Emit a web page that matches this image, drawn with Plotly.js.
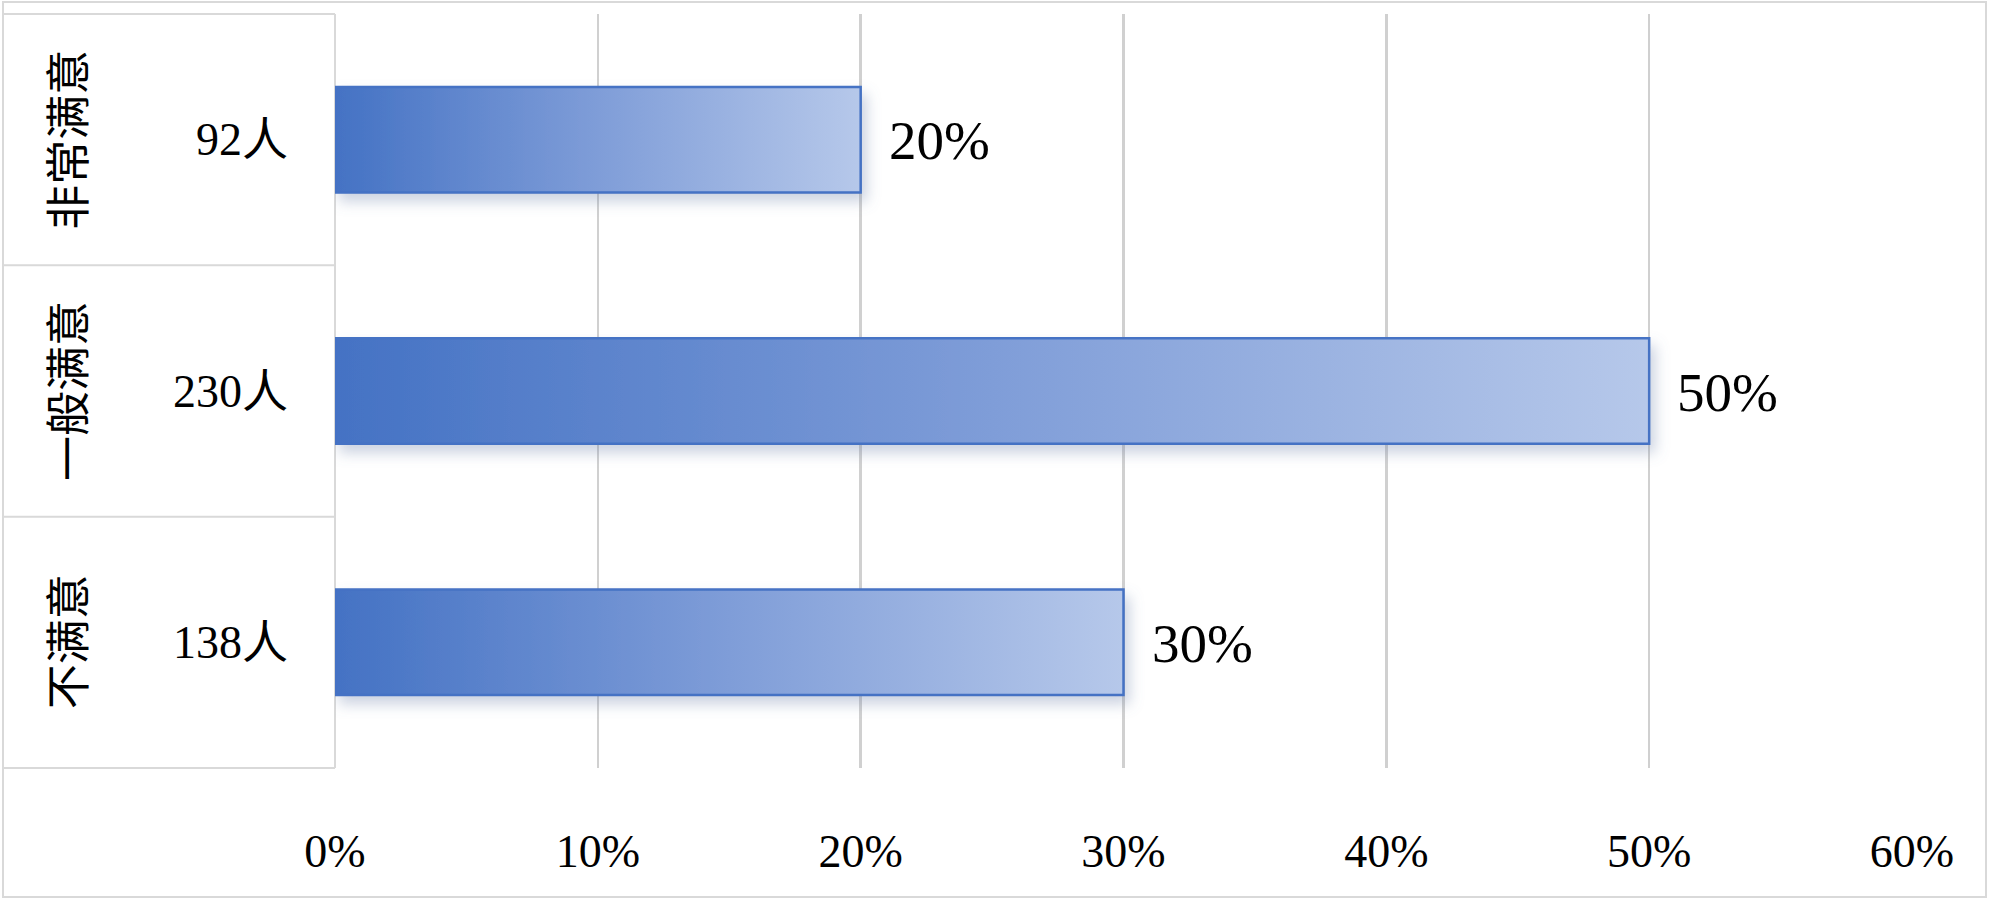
<!DOCTYPE html>
<html>
<head>
<meta charset="utf-8">
<script src="https://cdn.plot.ly/plotly-3.0.1.min.js"></script>
<style>
html,body{margin:0;padding:0;background:#fff;}
#chart{width:2000px;height:910px;}
</style>
</head>
<body>
<div id="chart"></div>
<script>
// ---- data ----
const categories = ['非常满意', '一般满意', '不满意'];
const counts = [92, 230, 138];
const shares = [0.20, 0.50, 0.30];
const countUnit = '人';

// ---- geometry helpers (pixel -> paper) ----
const W = 2000, H = 910;
const PL = 335, PR = 1912, PT = 14, PB = 768;
const pw = PR - PL, ph = PB - PT;
const px = v => (v - PL) / pw;
const py = v => (PB - v) / ph;

const FONT = '"Liberation Serif", "Times New Roman", "Noto Sans CJK SC", serif';
const FS = 46;
const LINE = '#d9d9d9';

const trace = {
  type: 'bar',
  orientation: 'h',
  y: categories,
  x: shares,
  width: 0.42,
  marker: { color: '#7f9fd8', line: { color: '#4472C4', width: 2.5 } },
  hoverinfo: 'none',
  cliponaxis: false
};

const annotations = [];
categories.forEach((c, i) => {
  // vertical category names
  annotations.push({
    xref: 'paper', yref: 'y', x: px(70), y: c,
    text: c, showarrow: false, textangle: -90,
    xanchor: 'center', yanchor: 'middle',
    font: { family: FONT, size: 45, color: '#000' }
  });
  // counts
  annotations.push({
    xref: 'paper', yref: 'y', x: px(290), y: c,
    text: counts[i] + countUnit, showarrow: false,
    xanchor: 'right', yanchor: 'middle',
    font: { family: FONT, size: FS, color: '#000' }
  });
  // share labels
  annotations.push({
    xref: 'x', yref: 'y', x: shares[i], y: c,
    text: Math.round(shares[i] * 100) + '%', showarrow: false,
    xanchor: 'left', yanchor: 'middle', xshift: 26, yshift: -1,
    font: { family: FONT, size: 55, color: '#000' }
  });
});

const shapes = [];
// outer border
shapes.push({ type: 'rect', xref: 'paper', yref: 'paper',
  x0: px(3), x1: px(1986), y0: py(897), y1: py(2),
  line: { color: LINE, width: 2 }, fillcolor: 'rgba(0,0,0,0)', layer: 'below' });
// category table: horizontal lines
[0, 1, 2, 3].forEach(k => {
  shapes.push({ type: 'line', xref: 'paper', yref: 'paper',
    x0: px(3), x1: 0, y0: k / 3, y1: k / 3,
    line: { color: LINE, width: 2 }, layer: 'below' });
});
// table right edge (0% line)
shapes.push({ type: 'line', xref: 'paper', yref: 'paper',
  x0: 0, x1: 0, y0: 0, y1: 1, line: { color: LINE, width: 2 }, layer: 'below' });

const layout = {
  width: W, height: H,
  margin: { l: PL, r: W - PR, t: PT, b: H - PB, pad: 0 },
  paper_bgcolor: '#fff', plot_bgcolor: '#fff',
  showlegend: false,
  bargap: 0.58,
  xaxis: {
    range: [0, 0.6], dtick: 0.1, tick0: 0, tickformat: '.0%',
    showgrid: true, gridcolor: '#d0d0d0', gridwidth: 2.5,
    zeroline: false, showline: false, ticks: '',
    ticklabelstandoff: 52,
    tickfont: { family: FONT, size: FS, color: '#000' },
    fixedrange: true
  },
  yaxis: {
    type: 'category', autorange: 'reversed',
    showticklabels: false, showgrid: false, zeroline: false, ticks: '',
    fixedrange: true
  },
  annotations: annotations,
  shapes: shapes
};

Plotly.newPlot('chart', [trace], layout, { staticPlot: true, displayModeBar: false }).then(gd => {
  const svg = gd.querySelector('svg.main-svg');
  const ns = 'http://www.w3.org/2000/svg';
  let defs = svg.querySelector('defs');
  if (!defs) { defs = document.createElementNS(ns, 'defs'); svg.insertBefore(defs, svg.firstChild); }
  const grad = document.createElementNS(ns, 'linearGradient');
  grad.setAttribute('id', 'barGrad');
  grad.setAttribute('x1', '0'); grad.setAttribute('y1', '0');
  grad.setAttribute('x2', '1'); grad.setAttribute('y2', '0');
  [['0', '#4472C4'], ['0.5', '#7F9DD8'], ['1', '#B6C8EA']].forEach(([o, c]) => {
    const s = document.createElementNS(ns, 'stop');
    s.setAttribute('offset', o); s.setAttribute('stop-color', c);
    grad.appendChild(s);
  });
  defs.appendChild(grad);
  const filt = document.createElementNS(ns, 'filter');
  filt.setAttribute('id', 'barShadow');
  filt.setAttribute('x', '-10%'); filt.setAttribute('y', '-30%');
  filt.setAttribute('width', '130%'); filt.setAttribute('height', '180%');
  const ds = document.createElementNS(ns, 'feDropShadow');
  ds.setAttribute('dx', '5'); ds.setAttribute('dy', '8');
  ds.setAttribute('stdDeviation', '7');
  ds.setAttribute('flood-color', '#6a7fa8'); ds.setAttribute('flood-opacity', '0.35');
  filt.appendChild(ds);
  defs.appendChild(filt);
  gd.querySelectorAll('.barlayer .point path').forEach(p => {
    p.style.fill = 'url(#barGrad)';
    p.style.fillOpacity = '1';
    p.style.filter = 'url(#barShadow)';
  });
});
</script>
</body>
</html>
